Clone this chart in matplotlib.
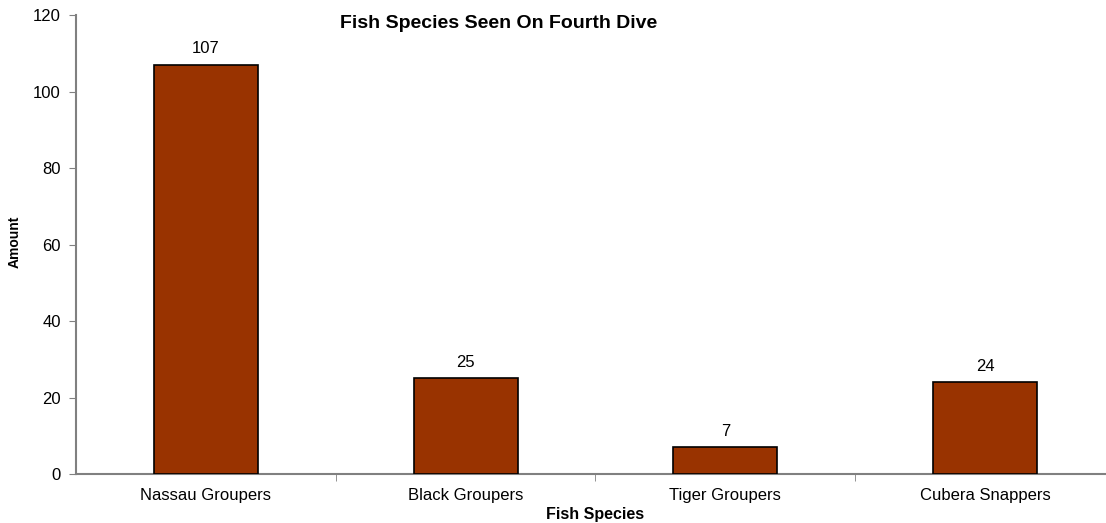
import matplotlib
matplotlib.use('Agg')
import matplotlib.pyplot as plt
import numpy as np

# data
species = ['Nassau Groupers', 'Black Groupers', 'Tiger Groupers', 'Cubera Snappers']
amounts = [107, 25, 7, 24]
y_ticks = [0, 20, 40, 60, 80, 100, 120]

plt.rcParams['font.family'] = ['Liberation Sans', 'DejaVu Sans']

fig = plt.figure(figsize=(11.06, 5.23), dpi=100)
# the plot area runs a bit past the right edge of the picture
ax = fig.add_axes([76/1106, 1-474/523, (1115-76)/1106, (474-15)/523])

idx = np.arange(len(species))
bars = ax.bar(idx, amounts, 0.40, color='#993300', edgecolor='black', linewidth=1.2, zorder=3)

for b, v in zip(bars, amounts):
    ax.text(b.get_x() + b.get_width()/2, v + 2.2, str(v), ha='center', va='bottom', fontsize=12)

ax.set_xlim(-0.5, len(species) - 0.5)
ax.set_ylim(0, 120)
ax.set_yticks(y_ticks)
ax.set_yticklabels([str(t) for t in y_ticks], fontsize=12)

# category labels in the middle, tick marks between the categories
ax.set_xticks(idx)
ax.set_xticklabels(species, fontsize=12)
ax.tick_params(axis='x', length=0, pad=10)
ax.set_xticks(np.arange(1, len(species) + 1) - 0.5, minor=True)
ax.tick_params(axis='x', which='minor', length=5, color='#808080', direction='out')
ax.tick_params(axis='y', length=5, color='#808080', direction='out', pad=6)

for s in ['top', 'right']:
    ax.spines[s].set_visible(False)
for s in ['left', 'bottom']:
    ax.spines[s].set_color('#808080')
    ax.spines[s].set_linewidth(1.5)

fig.text(499/1106, 1-23/523, 'Fish Species Seen On Fourth Dive', ha='center', va='center',
         fontsize=14, fontweight='bold')
fig.text(595/1106, 1-514/523, 'Fish Species', ha='center', va='center', fontsize=11.5, fontweight='bold')
fig.text(15/1106, 1-242/523, 'Amount', ha='center', va='center', rotation=90, fontsize=10, fontweight='bold')

plt.savefig('out.png', dpi=100)
